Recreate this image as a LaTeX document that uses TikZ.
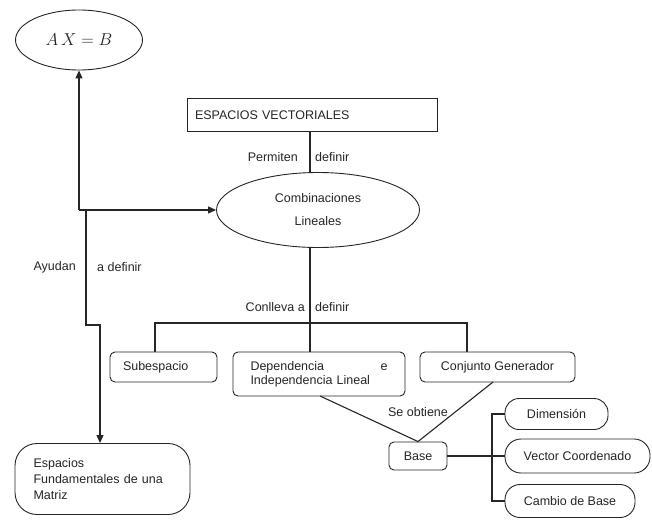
\documentclass[tikz,border=0pt]{standalone}
\usepackage{fontspec}
\setmainfont{Liberation Sans}
\usetikzlibrary{shapes.geometric,arrows.meta}
\begin{document}
\begin{tikzpicture}[x=1pt,y=-1pt,
  every node/.style={font=\fontsize{12.5}{14}\selectfont, inner sep=0pt, text=black!85},
  link/.style={draw=black!85, line width=1.1pt},
  tip/.style={-{Triangle[length=8pt,width=7pt]}},
  oval/.style={ellipse, draw=black!85, line width=0.9pt},
  plainbox/.style={rectangle, draw=black!85, line width=0.9pt},
  softbox/.style={rectangle, rounded corners=5pt, draw=black!85, line width=0.9pt},
  pill/.style={rectangle, rounded corners=15pt, draw=black!85, line width=0.9pt},
  lbl/.style={font=\fontsize{12.5}{14}\selectfont}]
\useasboundingbox (0,0) rectangle (652,519);
\fill[white] (0,0) rectangle (652,519);

% nodes
\node[oval, minimum width=127pt, minimum height=60pt] (axb) at (79,40)
  {\fontsize{17}{20}\selectfont $A\,X = B$};
\node[plainbox, minimum height=33pt, text width=234pt, inner xsep=8pt, align=left] (ev) at (312,115)
  {ESPACIOS VECTORIALES};
\node[oval, minimum width=203pt, minimum height=75pt, align=center,
  font=\fontsize{12.5}{23}\selectfont] (comb) at (318,210)
  {Combinaciones\\Lineales};
\node[softbox, minimum width=107pt, minimum height=30pt, text width=81pt, align=left] (sub) at (163.5,367)
  {Subespacio};
\node[softbox, minimum width=172pt, minimum height=44pt, text width=137pt, align=left] (dep) at (319,374)
  {Dependencia\hfill e\\Independencia Lineal};
\node[softbox, minimum width=155pt, minimum height=30pt] (cg) at (497.5,367)
  {Conjunto Generador};
\node[softbox, minimum width=58pt, minimum height=28pt] (base) at (418,456)
  {Base};
\node[pill, rounded corners=14pt, minimum width=103pt, minimum height=31pt] (dim) at (556.5,414)
  {Dimensión};
\node[pill, rounded corners=16pt, minimum width=145pt, minimum height=34pt] (vc) at (577.5,456)
  {Vector Coordenado};
\node[pill, minimum width=130pt, minimum height=33pt] (cb) at (570,501)
  {Cambio de Base};
\node[pill, rounded corners=22pt, minimum width=175pt, minimum height=71pt,
  text width=138pt, align=left, font=\fontsize{12.5}{16}\selectfont] (ef) at (102.5,479)
  {Espacios\\Fundamentales de una\\Matriz};

% junction points
\coordinate (j1) at (79,210);
\coordinate (j2) at (86,210);
\coordinate (j3) at (86,325);
\coordinate (j4) at (100,325);
\coordinate (br) at (310,323);
\coordinate (bl) at (155,323);
\coordinate (bR) at (467,323);
\coordinate (t1) at (492,414);
\coordinate (t3) at (492,501);

% connectors
\draw[link] (ev.south -| br) -- (comb.north -| br);
\draw[link, tip] (j1) -- (axb.south);
\draw[link, tip] (j1) -- (comb.west);
\draw[link, tip] (j2) -- (j3) -- (j4) -- (ef.north -| j4);
\draw[link] (comb.south -| br) -- (br);
\draw[link] (bl |- sub.north) -- (bl) -- (bR) -- (bR |- cg.north);
\draw[link] (br) -- (dep.north -| br);
\draw[link] (320,396) -- (base.north);
\draw[link] (493,382) -- (base.north);
\draw[link] (base.east) -- (vc.west);
\draw[link] (dim.west) -- (t1) -- (t3) -- (cb.west);

% labels
\node[lbl, anchor=east] (l1) at (298,157) {Permiten};
\node[lbl, anchor=west] (l2) at (315,157) {definir};
\node[lbl, anchor=east] (l3) at (305,307) {Conlleva a};
\node[lbl, anchor=west] (l4) at (315,307) {definir};
\node[lbl, anchor=east] (l5) at (76,267) {Ayudan};
\node[lbl, anchor=west] (l6) at (97,267) {a definir};
\node[lbl] (l7) at (418,412) {Se obtiene};
\end{tikzpicture}
\end{document}
